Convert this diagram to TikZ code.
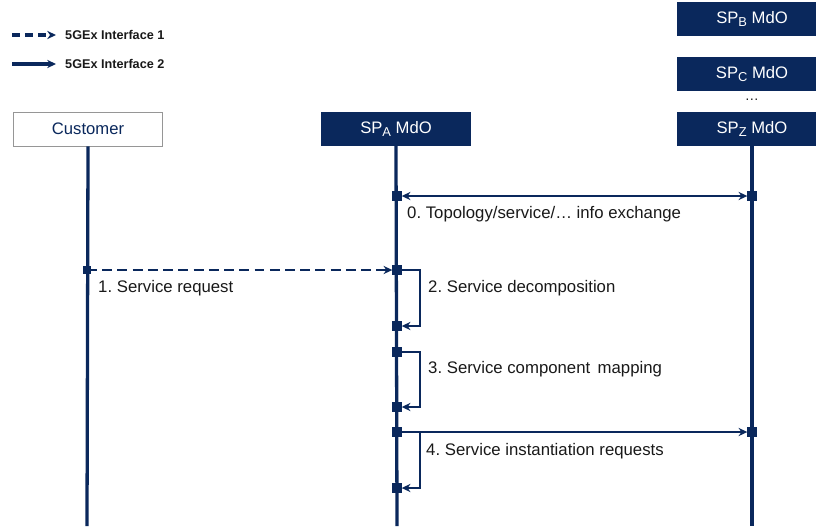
\documentclass[tikz,border=0pt]{standalone}
\usepackage{fontspec}
\setmainfont{Liberation Sans}
\usepackage{tikz}
\usepackage{tkz-euclide}
\usetikzlibrary{calc}
\usetikzlibrary{arrows.meta}

\definecolor{mdoblue}{RGB}{10,40,92}
\definecolor{msgtext}{RGB}{25,25,25}
\definecolor{boxgray}{RGB}{150,150,150}

\newcommand{\spsub}[1]{\raisebox{-0.35ex}{\fontsize{11}{13}\selectfont #1}}
\frenchspacing

\begin{document}
\begin{tikzpicture}[%
  x=0.03cm, y=-0.03cm,
  >={Stealth[length=7.5pt,width=7pt]},
  mdo/.style={rectangle, fill=mdoblue, text=white, inner sep=0pt,
    minimum width=127.5pt, minimum height=29pt,
    font=\fontsize{14.2}{16}\selectfont},
  actor/.style={mdo, fill=white, draw=boxgray, line width=0.8pt, text=mdoblue},
  life/.style={draw=mdoblue, line width=2.8pt},
  msg/.style={draw=mdoblue, line width=2.3pt},
  sq/.style={rectangle, fill=mdoblue, inner sep=0pt, minimum size=8.5pt},
  lbl/.style={anchor=base west, inner sep=0pt, text=msgtext,
    font=\fontsize{14.3}{16}\selectfont},
  legend/.style={anchor=west, inner sep=0pt, text=msgtext,
    font=\fontsize{10.8}{12}\selectfont\bfseries},
]

  \path[use as bounding box, clip] (0,0) rectangle (816,526);

  % lifelines
  \tkzDefPoint(87,526){ce}
  \tkzDefPoint(397,526){ae}
  \tkzDefPoint(752,526){ze}

  % message points
  \tkzDefPoint(397,196){a0}
  \tkzDefPoint(752,196){z0}
  \tkzDefPoint(87,270){c1}
  \tkzDefPoint(397,270){a1}
  \tkzDefPoint(397,326){a2}
  \tkzDefPoint(397,352){a3}
  \tkzDefPoint(397,407){a3e}
  \tkzDefPoint(397,432){a4}
  \tkzDefPoint(752,432){z4}
  \tkzDefPoint(397,488){a4e}

  % legend
  \tkzDefPoint(12,35){l1a}
  \tkzDefPoint(56,35){l1b}
  \tkzDefPoint(12,64){l2a}
  \tkzDefPoint(56,64){l2b}

  \node[actor] (cust) at (88,129) {Customer};
  \node[mdo] (spa) at (396,129) {SP\spsub{A} MdO};
  \node[mdo] (spb) at (752,19) {SP\spsub{B} MdO};
  \node[mdo] (spc) at (752,74) {SP\spsub{C} MdO};
  \node[mdo] (spz) at (752,129) {SP\spsub{Z} MdO};
  \node[text=msgtext, inner sep=0pt, font=\fontsize{12}{13}\selectfont]
    (dots) at (752,100) {\dots};

  \draw[life] (cust.south) -- (ce);
  \draw[life] (spa.south) -- (ae);
  \draw[life] (spz.south) -- (ze);

  \draw[msg, <->, shorten <=4pt, shorten >=4pt] (a0) -- (z0);
  \draw[msg, ->, dash pattern=on 8.5pt off 4.5pt, shorten >=4pt] (c1) -- (a1);
  \draw[msg, ->, shorten >=4pt] (a1) -- ++(23,0) |- (a2);
  \draw[msg, ->, shorten >=4pt] (a3) -- ++(23,0) |- (a3e);
  \draw[msg, ->, shorten >=4pt] (a4) -- (z4);
  \draw[msg, ->, shorten >=4pt] (a4) -- ++(23,0) |- (a4e);

  \foreach \p in {a0,z0,a1,a2,a3,a3e,a4,z4,a4e}
    \node[sq] (sq-\p) at (\p) {};
  \node[sq, minimum size=7pt] (sq-c1) at (c1) {};

  \node[lbl] (m0) at (407,218) {0. Topology/service/\dots{} info exchange};
  \node[lbl] (m1) at (98,292) {1. Service request};
  \node[lbl] (m2) at (428,292) {2. Service decomposition};
  \node[lbl] (m3) at (428,373) {3. Service component\, mapping};
  \node[lbl] (m4) at (426,455) {4. Service instantiation requests};

  \draw[msg, line width=2.6pt, ->, dash pattern=on 7pt off 4pt] (l1a) -- (l1b);
  \draw[msg, line width=2.6pt, ->] (l2a) -- (l2b);
  \node[legend] (if1) at (65,35) {5GEx Interface 1};
  \node[legend] (if2) at (65,64) {5GEx Interface 2};

\end{tikzpicture}
\end{document}
